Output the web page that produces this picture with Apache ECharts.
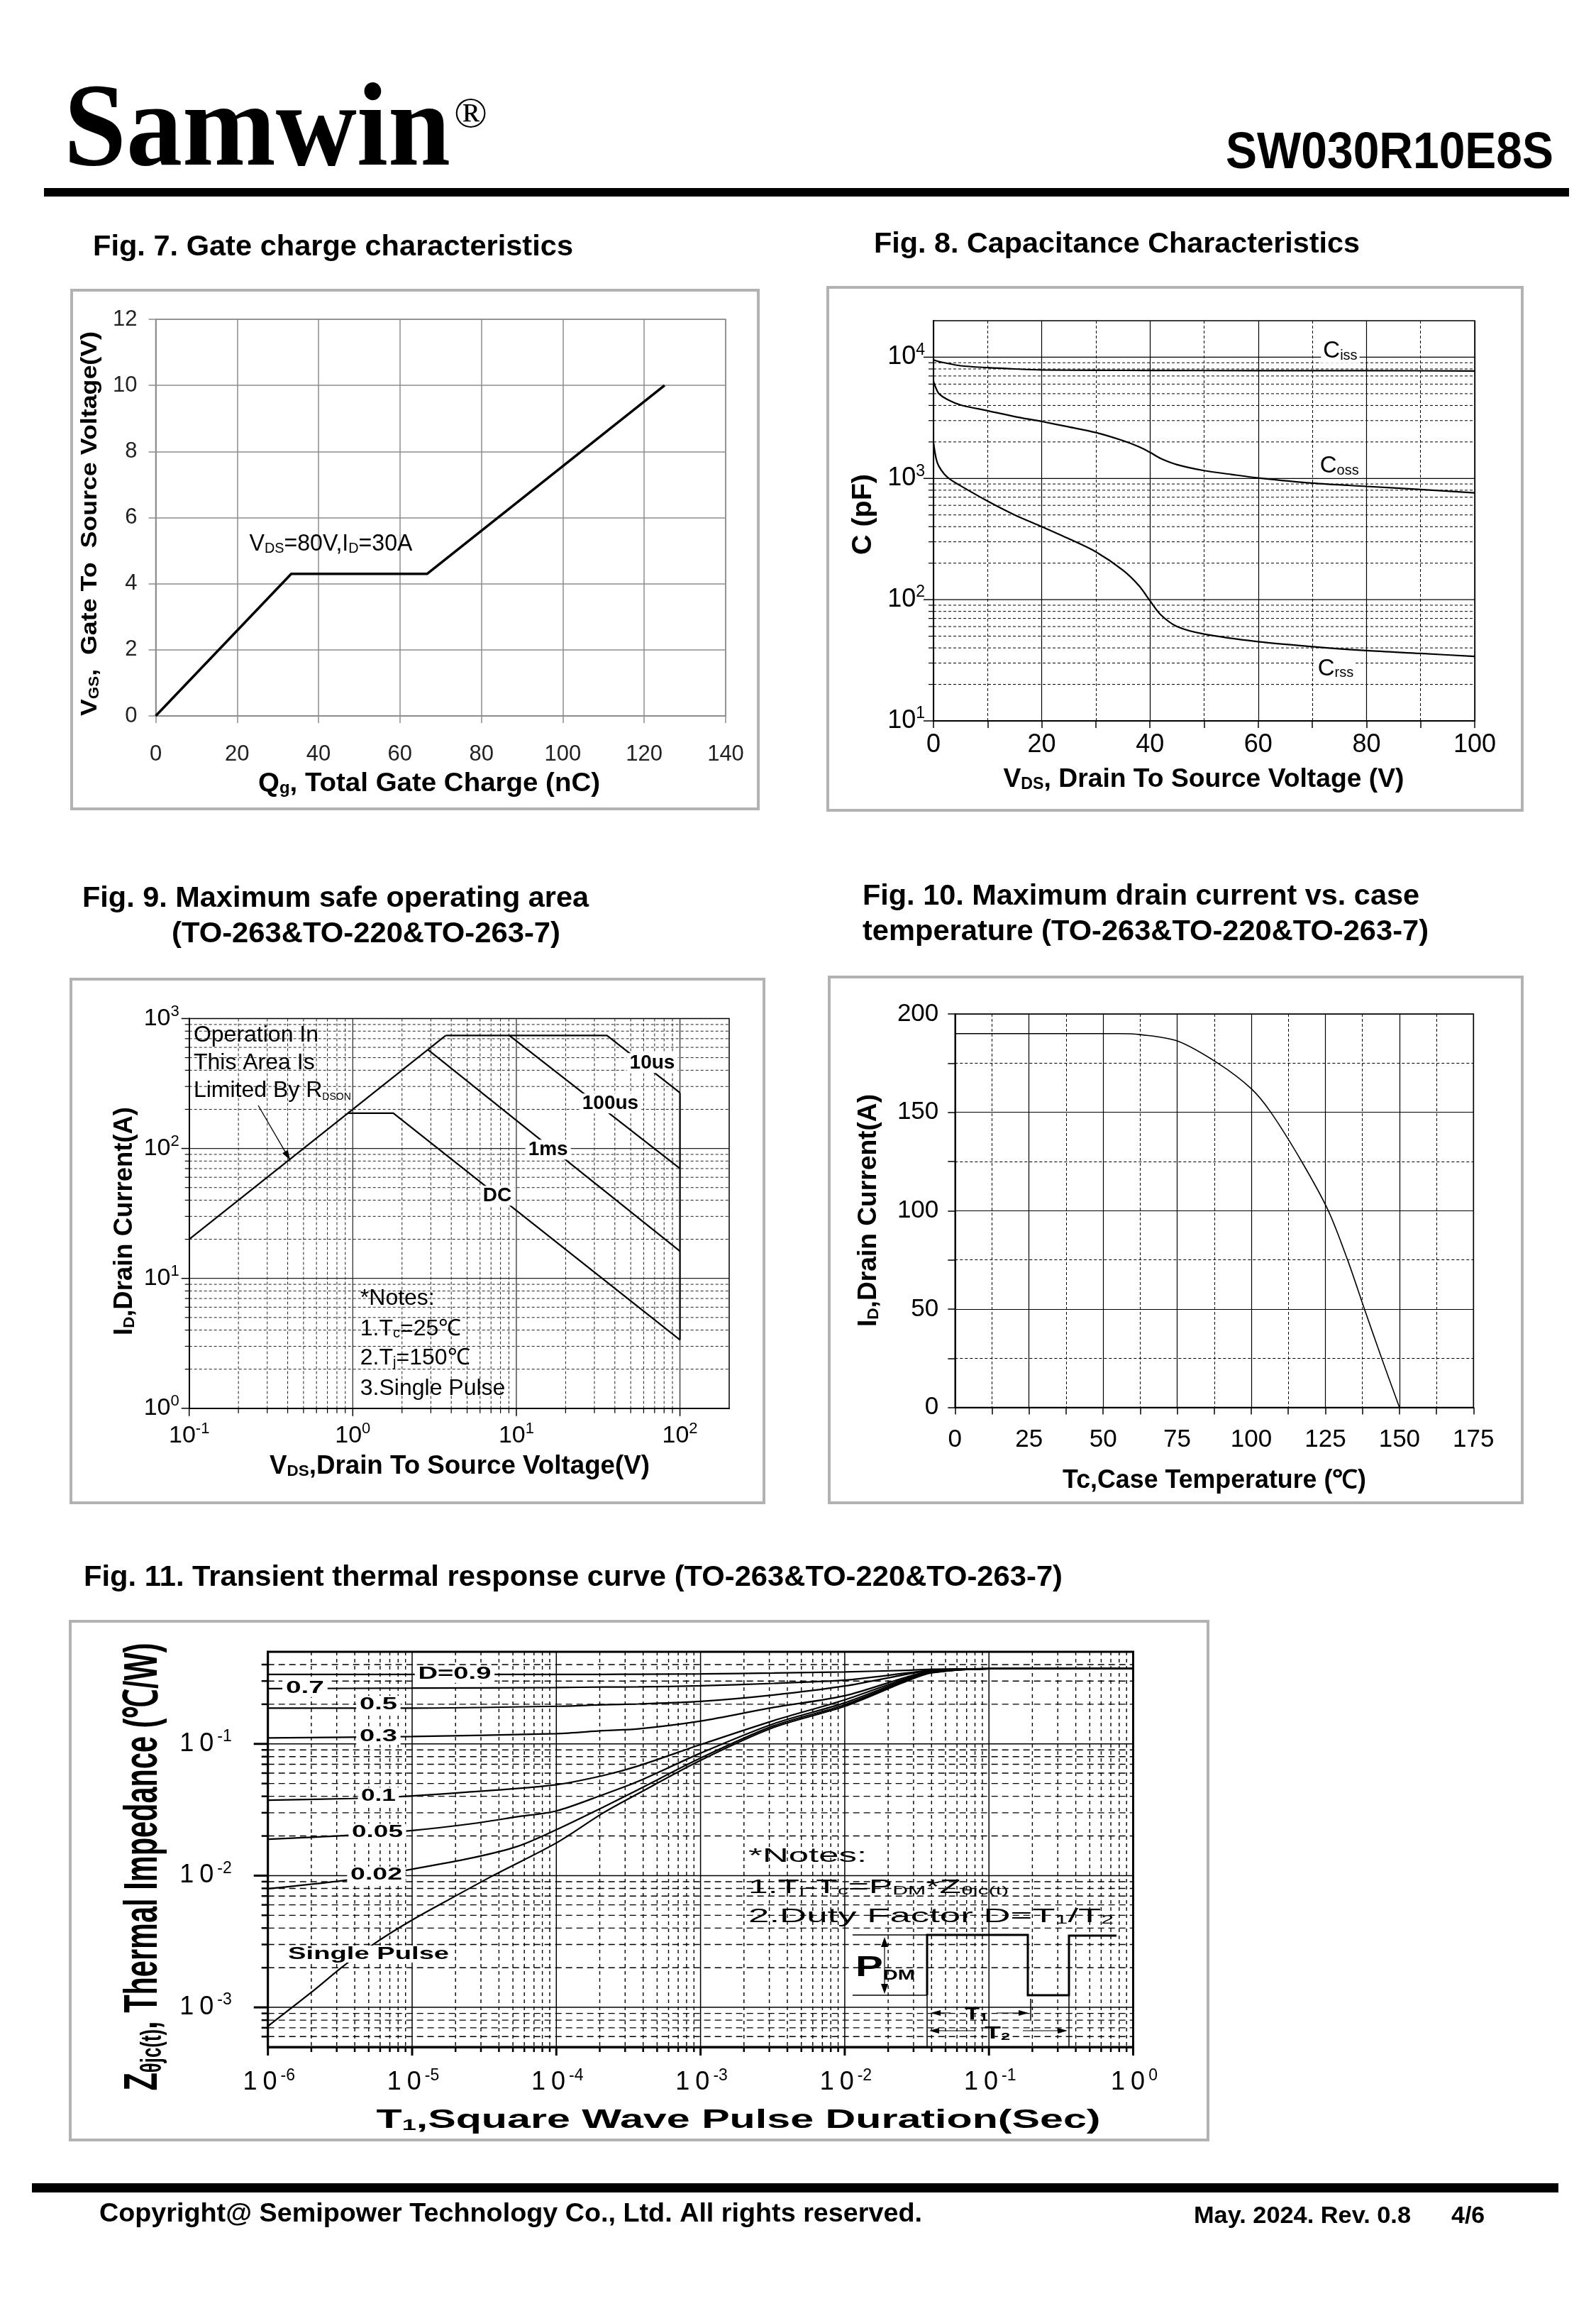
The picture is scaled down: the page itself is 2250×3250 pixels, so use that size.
<!DOCTYPE html>
<html>
<head>
<meta charset="utf-8">
<title>SW030R10E8S</title>
<script src="https://cdn.jsdelivr.net/npm/echarts@6.0.0/dist/echarts.min.js"></script>
<style>
html,body{margin:0;padding:0;background:#fff;}
#chart{width:2250px;height:3250px;}
</style>
</head>
<body>
<div id="chart"></div>
<script>
// ================= DATA =================
// Fig. 7 Gate charge
const fig7Qg = [0, 33.3, 66.7, 125];
const fig7Vgs = [0, 4.3, 4.3, 10];

// Fig. 8 Capacitance (pF) vs VDS (V)
const cissVds = [0, 1, 2, 5, 10, 15, 20, 30, 40, 60, 80, 100];
const cissPf  = [9500, 9200, 9000, 8500, 8200, 8000, 7850, 7800, 7780, 7750, 7750, 7700];
const cossVds = [0, 0.5, 1, 2.5, 5, 10, 15, 20, 25, 30, 35, 38, 40, 42, 45, 50, 55, 60, 70, 80, 90, 100];
const cossPf  = [6300, 5500, 5000, 4500, 4040, 3620, 3240, 2950, 2660, 2390, 2050, 1820, 1640, 1460, 1300, 1160, 1080, 1010, 915, 860, 810, 760];
const crssVds = [0, 0.5, 1, 2, 3, 5, 10, 15, 20, 25, 30, 35, 38, 40, 42, 45, 50, 60, 70, 80, 90, 100];
const crssPf  = [1970, 1450, 1260, 1085, 990, 870, 650, 500, 400, 318, 248, 175, 130, 98, 75, 60, 52, 45, 41, 38, 36, 34];
const fig8YExp = [1, 2, 3, 4];

// Fig. 9 Safe operating area (V, A)
const soaRdsV   = [0.1, 3.7];        const soaRdsA   = [20, 740];
const soa10usV  = [3.7, 35.8, 100];  const soa10usA  = [740, 740, 268];
const soa100usV = [9.06, 100];       const soa100usA = [740, 70];
const soa1msV   = [2.88, 100];       const soa1msA   = [576, 16.2];
const soaDcV    = [0.935, 1.77, 100];const soaDcA    = [187, 187, 3.36];
const soaEdgeV  = [100, 100];        const soaEdgeA  = [268, 3.36];
const fig9XExp = [-1, 0, 1, 2];
const fig9YExp = [0, 1, 2, 3];

// Fig. 10 Max drain current vs case temperature
const caseTempC     = [0, 55, 62.5, 75, 88.7, 100, 106.6, 117, 126, 132.5, 138.2, 144, 150];
const drainCurrentA = [190, 190, 189.5, 186.3, 175, 162, 150, 125, 100, 75, 50, 25, 0];

// Fig. 11 Transient thermal impedance (s, degC/W)
const zthD09T = [1e-6, 1e-5, 1e-4, 2.1e-4, 3.7e-4, 1e-3, 3.2e-3, 1e-2, 2.7e-2, 4e-2, 1e-1, 1];
const zthD09  = [0.337, 0.337, 0.337, 0.337, 0.338, 0.340, 0.345, 0.352, 0.362, 0.368, 0.372, 0.374];
const zthD07T = [1e-6, 1e-5, 1e-4, 2.1e-4, 3.7e-4, 1e-3, 3.2e-3, 1e-2, 2.7e-2, 4e-2, 1e-1, 1];
const zthD07  = [0.263, 0.265, 0.268, 0.270, 0.271, 0.276, 0.288, 0.305, 0.345, 0.362, 0.372, 0.374];
const zthD05T = [1e-6, 1e-5, 1e-4, 2.1e-4, 3.7e-4, 1e-3, 3.2e-3, 1e-2, 2.7e-2, 4e-2, 1e-1, 1];
const zthD05  = [0.187, 0.187, 0.193, 0.198, 0.201, 0.210, 0.235, 0.275, 0.338, 0.360, 0.372, 0.374];
const zthD03T = [1e-6, 1e-5, 1e-4, 2.1e-4, 3.7e-4, 1e-3, 3.2e-3, 1e-2, 2.7e-2, 4e-2, 1e-1, 1];
const zthD03  = [0.111, 0.1137, 0.1197, 0.126, 0.130, 0.149, 0.189, 0.232, 0.322, 0.356, 0.372, 0.374];
const zthD01T = [1e-6, 3.85e-6, 1e-5, 2.54e-5, 1e-4, 2.1e-4, 3.7e-4, 1e-3, 3.2e-3, 1e-2, 2.7e-2, 4e-2, 1e-1, 1];
const zthD01  = [0.0374, 0.0385, 0.0403, 0.0432, 0.049, 0.0574, 0.068, 0.0987, 0.150, 0.216, 0.315, 0.352, 0.372, 0.374];
const zthD005T = [1e-6, 3.3e-6, 1e-5, 2.54e-5, 5.4e-5, 1e-4, 2.1e-4, 3.7e-4, 1e-3, 3.2e-3, 1e-2, 2.7e-2, 4e-2, 1e-1, 1];
const zthD005  = [0.0189, 0.0201, 0.022, 0.0247, 0.028, 0.031, 0.0411, 0.052, 0.085, 0.142, 0.205, 0.310, 0.350, 0.372, 0.374];
const zthD002T = [1e-6, 3.4e-6, 1e-5, 2.54e-5, 5.4e-5, 1e-4, 2.1e-4, 3.7e-4, 1e-3, 3.2e-3, 1e-2, 2.7e-2, 4e-2, 1e-1, 1];
const zthD002  = [0.00796, 0.0092, 0.0112, 0.01355, 0.0167, 0.0223, 0.033, 0.045, 0.078, 0.137, 0.198, 0.305, 0.348, 0.372, 0.374];
const zthSingleT = [1e-6, 2e-6, 3.4e-6, 5.6e-6, 1e-5, 1.95e-5, 3.7e-5, 1e-4, 2.1e-4, 3.7e-4, 1e-3, 3.2e-3, 1e-2, 2.7e-2, 4e-2, 1e-1, 1];
const zthSingle  = [7.2e-4, 1.3e-3, 2.09e-3, 3.1e-3, 4.6e-3, 6.9e-3, 0.0101, 0.0177, 0.0298, 0.042, 0.075, 0.133, 0.193, 0.300, 0.346, 0.372, 0.374];
const fig11XExp = [-6, -5, -4, -3, -2, -1, 0];
const fig11YExp = [-3, -2, -1];

// ================= HELPERS =================
const FONT = '"Liberation Sans", Arial, Helvetica, sans-serif';
const NARROW = '"Liberation Sans Narrow", "Arial Narrow", "Liberation Sans", sans-serif';
const SERIF = '"Liberation Serif", "Times New Roman", serif';
const BLK = '#000';
const GRAY7 = '#8c8c8c';
const L10 = Math.log10;

const zip = (xs, ys, fx, fy) => xs.map((x, i) => [fx ? fx(x) : x, fy ? fy(ys[i]) : ys[i]]);

function logMinors(lo, hi) {
  const out = [];
  for (let d = Math.floor(lo); d < Math.ceil(hi); d++)
    for (let k = 2; k <= 9; k++) { const v = d + L10(k); if (v > lo + 1e-6 && v < hi - 1e-6) out.push(v); }
  return out;
}
function ints(lo, hi) { const o = []; for (let i = Math.ceil(lo - 1e-9); i <= Math.floor(hi + 1e-9); i++) o.push(i); return o; }

function expRich(f, spaced) {
  return {
    b: {fontSize: f, fontFamily: FONT, color: BLK, lineHeight: Math.round(f * 1.2), padding: spaced ? [0, 4] : 0},
    s: {fontSize: Math.round(f * 0.64), fontFamily: FONT, color: BLK, lineHeight: Math.round(f * 0.64), verticalAlign: 'top', padding: spaced ? [0, 1] : 0}
  };
}
function expFormatter(exps, spaced) {
  return v => {
    const r = Math.round(v);
    if (Math.abs(v - r) > 1e-6 || exps.indexOf(r) < 0) return '';
    return spaced ? '{b|1}{b|0}{s|' + r + '}' : '{b|10}{s|' + r + '}';
  };
}

function ax(gi, extra) {
  return Object.assign({
    gridIndex: gi, type: 'value',
    axisLine: {onZero: false, show: true, lineStyle: {color: BLK, width: 2}},
    splitLine: {show: false}, axisTick: {show: false},
    minorTick: {show: false}, minorSplitLine: {show: false}
  }, extra);
}

function lineS(gi, data, width, smooth) {
  return {type: 'line', xAxisIndex: gi, yAxisIndex: gi, data, symbol: 'none', showSymbol: false,
    smooth: smooth || false,
    lineStyle: {color: BLK, width}, z: 5, silent: true, animation: false, clip: true};
}

// gridlines drawn through the axis scales (for log-transformed axes)
function gridS(gi, xs, ys, ref, st) {
  const data = xs.map(v => [v, ref[1], 0]).concat(ys.map(v => [ref[0], v, 1]));
  return {
    type: 'custom', xAxisIndex: gi, yAxisIndex: gi, silent: true, z: 1, animation: false, clip: false,
    data, encode: {x: 0, y: 1},
    renderItem(params, api) {
      const cs = params.coordSys;
      const p = api.coord([api.value(0), api.value(1)]);
      const k = api.value(2);
      const shape = k === 0 ? {x1: p[0], y1: cs.y, x2: p[0], y2: cs.y + cs.height}
                            : {x1: cs.x, y1: p[1], x2: cs.x + cs.width, y2: p[1]};
      return {type: 'line', shape, style: {stroke: st.color, lineWidth: st.width, lineDash: k === 0 ? st.dashX : st.dashY}};
    }
  };
}
// outward ticks drawn through the axis scales
function tickS(gi, xs, ys, ref, lenX, lenY, width) {
  const data = xs.map(v => [v, ref[1], 0]).concat(ys.map(v => [ref[0], v, 1]));
  return {
    type: 'custom', xAxisIndex: gi, yAxisIndex: gi, silent: true, z: 3, animation: false, clip: false,
    data, encode: {x: 0, y: 1},
    renderItem(params, api) {
      const cs = params.coordSys;
      const p = api.coord([api.value(0), api.value(1)]);
      const k = api.value(2);
      const shape = k === 0 ? {x1: p[0], y1: cs.y + cs.height, x2: p[0], y2: cs.y + cs.height + lenX}
                            : {x1: cs.x - lenY, y1: p[1], x2: cs.x, y2: p[1]};
      return {type: 'line', shape, style: {stroke: BLK, lineWidth: width}};
    }
  };
}

// ================= OPTION =================
const chart = echarts.init(document.getElementById('chart'));

const grids = [
  {left: 219.5, top: 450, width: 803.5, height: 559, show: true, borderColor: GRAY7, borderWidth: 1.5},
  {left: 1316, top: 452, width: 763, height: 564, show: true, borderColor: BLK, borderWidth: 1.5},
  {left: 266.7, top: 1435.5, width: 761.3, height: 549.3, show: true, borderColor: BLK, borderWidth: 1.5},
  {left: 1346.3, top: 1429, width: 731, height: 554.6, show: true, borderColor: BLK, borderWidth: 1.5},
  {left: 377.7, top: 2328, width: 1219.8, height: 557, show: true, borderColor: BLK, borderWidth: 3}
];

const f8YMax = L10(20000), f9XMax = L10(200), f11YMin = L10(5e-4), f11YMax = L10(0.5);

const xAxes = [
  ax(0, {min: 0, max: 140, interval: 20,
    axisLine: {onZero: false, show: true, lineStyle: {color: GRAY7, width: 1.5}},
    axisTick: {show: true, length: 10, lineStyle: {color: GRAY7, width: 1.5}},
    axisLabel: {fontFamily: NARROW, fontSize: 31, color: '#222', margin: 36, lineHeight: 36},
    splitLine: {show: true, lineStyle: {color: GRAY7, width: 1.5}}}),
  ax(1, {min: 0, max: 100, interval: 20,
    axisTick: {show: true, length: 10, lineStyle: {color: BLK, width: 1.5}},
    minorTick: {show: true, splitNumber: 2, length: 10, lineStyle: {color: BLK, width: 1.5}},
    axisLabel: {fontFamily: FONT, fontSize: 36, color: BLK, margin: 14, lineHeight: 40},
    splitLine: {show: true, lineStyle: {color: BLK, width: 1.2}},
    minorSplitLine: {show: true, lineStyle: {color: BLK, width: 1, type: [4, 3]}}}),
  ax(2, {min: -1, max: f9XMax, interval: 1,
    axisLabel: {formatter: expFormatter(fig9XExp), rich: expRich(34), margin: 18}}),
  ax(3, {min: 0, max: 175, interval: 25,
    axisTick: {show: true, length: 10, lineStyle: {color: BLK, width: 1.5}},
    minorTick: {show: true, splitNumber: 2, length: 10, lineStyle: {color: BLK, width: 1.5}},
    axisLabel: {fontFamily: FONT, fontSize: 35, color: BLK, margin: 26, lineHeight: 40},
    splitLine: {show: true, lineStyle: {color: BLK, width: 1.2}},
    minorSplitLine: {show: true, lineStyle: {color: BLK, width: 1, type: [4, 3]}}}),
  ax(4, {min: -6, max: 0, interval: 1,
    axisLine: {onZero: false, show: true, lineStyle: {color: BLK, width: 3}},
    axisLabel: {formatter: expFormatter(fig11XExp, true), rich: expRich(36, true), margin: 29}})
];
const yAxes = [
  ax(0, {min: 0, max: 12, interval: 2,
    axisLine: {onZero: false, show: true, lineStyle: {color: GRAY7, width: 1.5}},
    axisTick: {show: true, length: 10, lineStyle: {color: GRAY7, width: 1.5}},
    axisLabel: {fontFamily: NARROW, fontSize: 31, color: '#222', margin: 26},
    splitLine: {show: true, lineStyle: {color: GRAY7, width: 1.5}}}),
  ax(1, {min: 1, max: f8YMax, interval: 1,
    axisLabel: {formatter: expFormatter(fig8YExp), rich: expRich(36), margin: 12}}),
  ax(2, {min: 0, max: 3, interval: 1,
    axisLabel: {formatter: expFormatter(fig9YExp), rich: expRich(34), margin: 14}}),
  ax(3, {min: 0, max: 200, interval: 50,
    axisTick: {show: true, length: 10, lineStyle: {color: BLK, width: 1.5}},
    minorTick: {show: true, splitNumber: 2, length: 10, lineStyle: {color: BLK, width: 1.5}},
    axisLabel: {fontFamily: FONT, fontSize: 35, color: BLK, margin: 23},
    splitLine: {show: true, lineStyle: {color: BLK, width: 1.2}},
    minorSplitLine: {show: true, lineStyle: {color: BLK, width: 1, type: [4, 3]}}}),
  ax(4, {min: f11YMin, max: f11YMax, splitNumber: 3,
    axisLine: {onZero: false, show: true, lineStyle: {color: BLK, width: 3}},
    axisLabel: {formatter: expFormatter(fig11YExp, true), rich: expRich(36, true), margin: 50}})
];

const series = [];
// Fig 7
series.push(lineS(0, zip(fig7Qg, fig7Vgs), 3.5));
// Fig 8
series.push(gridS(1, [], [2, 3, 4], [50, 2], {color: BLK, width: 1.2}));
series.push(gridS(1, [], logMinors(1, f8YMax), [50, 2], {color: BLK, width: 1, dashY: [4, 3]}));
series.push(tickS(1, [], [1, 2, 3, 4], [50, 2], 0, 14, 1.5));
series.push(tickS(1, [], logMinors(1, f8YMax), [50, 2], 0, 7, 1.2));
series.push(lineS(1, zip(cissVds, cissPf, null, L10), 2.2, 0.3));
series.push(lineS(1, zip(cossVds, cossPf, null, L10), 2.2, 0.3));
series.push(lineS(1, zip(crssVds, crssPf, null, L10), 2.2, 0.3));
// Fig 9
series.push(gridS(2, [0, 1, 2], [1, 2], [0, 1.5], {color: '#222', width: 1.2}));
series.push(gridS(2, logMinors(-1, f9XMax), logMinors(0, 3), [0, 1.5], {color: '#222', width: 1, dashX: [4, 3], dashY: [4, 3]}));
series.push(tickS(2, ints(-1, 2), ints(0, 3), [0, 1.5], 11, 11, 1.5));
series.push(tickS(2, logMinors(-1, f9XMax), logMinors(0, 3), [0, 1.5], 7, 6, 1.2));
[[soaRdsV, soaRdsA], [soa10usV, soa10usA], [soa100usV, soa100usA], [soa1msV, soa1msA], [soaDcV, soaDcA], [soaEdgeV, soaEdgeA]]
  .forEach(([v, a]) => series.push(lineS(2, zip(v, a, L10, L10), 2.2)));
// Fig 10
series.push(lineS(3, zip(caseTempC, drainCurrentA), 1.6, 0.3));
// Fig 11
series.push(gridS(4, [-5, -4, -3, -2, -1], [-3, -2, -1], [-3, -2], {color: BLK, width: 1.5}));
series.push(gridS(4, logMinors(-6, 0), logMinors(f11YMin, f11YMax), [-3, -2], {color: BLK, width: 1.4, dashX: [5, 5], dashY: [9, 6]}));
series.push(tickS(4, ints(-6, 0), [-3, -2, -1], [-3, -2], 12, 20, 3));
series.push(tickS(4, logMinors(-6, 0), logMinors(f11YMin, f11YMax), [-3, -2], 7, 9, 2.5));
[[zthD09T, zthD09], [zthD07T, zthD07], [zthD05T, zthD05], [zthD03T, zthD03], [zthD01T, zthD01],
 [zthD005T, zthD005], [zthD002T, zthD002], [zthSingleT, zthSingle]]
  .forEach(([t, z]) => series.push(lineS(4, zip(t, z, L10, L10), 2.2, 0.3)));

chart.setOption({
  backgroundColor: '#fff', animation: false,
  grid: grids, xAxis: xAxes, yAxis: yAxes, series
});

// ================= TEXT / DECORATION =================
const mctx = document.createElement('canvas').getContext('2d');
function fontStr(st) { return (st.fontWeight || 'normal') + ' ' + st.fontSize + 'px ' + st.fontFamily; }
function mkRich(f, fam, wt, col, ratio) {
  const s = Math.round(f * (ratio || 0.62));
  const b = (size, lh, va) => ({fontSize: size, fontFamily: fam, fontWeight: wt, fill: col, color: col, lineHeight: lh, verticalAlign: va});
  return {
    m: b(f, f, 'middle'),
    sb: b(s, Math.round(0.3 * f + 0.7 * s), 'bottom'),
    sl: b(s, Math.max(4, Math.round(0.3 * f + 0.7 * s - 0.3 * f)), 'bottom'),
    sp: b(s, s, 'top')
  };
}
function measureSegs(segs, rich) {
  let w = 0;
  segs.forEach(([t, s]) => { mctx.font = fontStr(rich[s || 'm']); w += mctx.measureText(t).width; });
  return w;
}
function T(x, y, segs, o) {
  o = o || {};
  const f = o.size || 30, fam = o.family || FONT, wt = o.weight || 'normal', col = o.color || BLK;
  const rich = mkRich(f, fam, wt, col, o.ratio);
  if (typeof segs === 'string') segs = [[segs, 'm']];
  let sx = o.scaleX || 1;
  if (o.width) sx = o.width / measureSegs(segs, rich);
  const text = segs.map(([t, s]) => '{' + (s || 'm') + '|' + t + '}').join('');
  const align = o.align || 'left';
  return {
    type: 'text', x, y, rotation: o.rotation || 0, scaleX: sx, scaleY: o.scaleY || 1, z: 200, silent: true,
    style: {text, x: 0, y: o.mid ? 0 : -0.35 * f, rich, font: wt + ' ' + f + 'px ' + fam, fill: col,
      align, textAlign: align, verticalAlign: 'middle', textVerticalAlign: 'middle',
      backgroundColor: o.bg || null, padding: o.bg ? (o.pad || [0, 3]) : 0}
  };
}
function R(x, y, w, h, fill, stroke, lw) {
  return {type: 'rect', shape: {x, y, width: w, height: h}, style: {fill: fill || null, stroke: stroke || null, lineWidth: lw || 0}, z: 150, silent: true};
}
function Ln(x1, y1, x2, y2, w) { return {type: 'line', shape: {x1, y1, x2, y2}, style: {stroke: BLK, lineWidth: w || 1.5}, z: 200, silent: true}; }
function PL(points, w) { return {type: 'polyline', shape: {points}, style: {stroke: BLK, lineWidth: w || 1.5, fill: null}, z: 200, silent: true}; }
function AH(tx, ty, fx, fy, len, half) {
  const dx = tx - fx, dy = ty - fy, L = Math.hypot(dx, dy), ux = dx / L, uy = dy / L;
  const bx = tx - ux * len, by = ty - uy * len;
  return {type: 'polygon', shape: {points: [[tx, ty], [bx - uy * half, by + ux * half], [bx + uy * half, by - ux * half]]}, style: {fill: BLK}, z: 200, silent: true};
}
const P = (gi, x, y) => chart.convertToPixel({gridIndex: gi}, [x, y]);
const PI2 = Math.PI / 2;
const g = [];

// header & footer
g.push(T(90, 247, 'Samwin', {size: 168, family: SERIF, weight: 'bold', width: 545}));
g.push(T(640, 163, '®', {size: 62, family: SERIF, mid: true}));
g.push(T(2190, 242, 'SW030R10E8S', {size: 72, weight: 'bold', align: 'right', width: 462}));
g.push(R(62, 265, 2150, 12, BLK));
g.push(R(45, 3077, 2152, 13, BLK));
g.push(T(140, 3134, 'Copyright@ Semipower Technology Co., Ltd. All rights reserved.', {size: 37, weight: 'bold', width: 1160}));
g.push(T(1683, 3136, 'May. 2024. Rev. 0.8', {size: 34, weight: 'bold', width: 306}));
g.push(T(2046, 3136, '4/6', {size: 34, weight: 'bold'}));

// frames
const BOXC = '#b2b2b2';
g.push(R(101, 409, 968, 731, null, BOXC, 4));
g.push(R(1167, 405, 979, 737, null, BOXC, 4));
g.push(R(100, 1380, 977, 738, null, BOXC, 4));
g.push(R(1169, 1377, 977, 741, null, BOXC, 4));
g.push(R(99, 2285, 1604, 731, null, BOXC, 4));

// titles
g.push(T(131, 363, 'Fig. 7. Gate charge characteristics', {size: 41, weight: 'bold', width: 677}));
g.push(T(1232, 359, 'Fig. 8. Capacitance Characteristics', {size: 41, weight: 'bold', width: 685}));
g.push(T(116, 1281, 'Fig. 9. Maximum safe operating area', {size: 41, weight: 'bold', width: 714}));
g.push(T(242, 1331, '(TO-263&TO-220&TO-263-7)', {size: 41, weight: 'bold', width: 548}));
g.push(T(1216, 1278, 'Fig. 10. Maximum drain current vs. case', {size: 41, weight: 'bold', width: 785}));
g.push(T(1216, 1328, 'temperature (TO-263&TO-220&TO-263-7)', {size: 41, weight: 'bold', width: 798}));
g.push(T(118, 2238, 'Fig. 11. Transient thermal response curve (TO-263&TO-220&TO-263-7)', {size: 41, weight: 'bold', width: 1380}));

// axis names
g.push(T(605, 1118, [['Q'], ['g', 'sl'], [', Total Gate Charge (nC)']], {size: 37, family: NARROW, weight: 'bold', align: 'center', width: 482}));
g.push(T(127, 738, [['V'], ['GS', 'sl'], [',  Gate To  Source Voltage(V)']], {size: 32, weight: 'bold', align: 'center', rotation: PI2, mid: true, width: 542}));
g.push(T(1697, 1112, [['V'], ['DS', 'sb'], [', Drain To Source Voltage (V)']], {size: 37, weight: 'bold', align: 'center', width: 565}));
g.push(T(1218, 725, 'C (pF)', {size: 38, weight: 'bold', align: 'center', rotation: PI2, mid: true, width: 114}));
g.push(T(648, 2080, [['V'], ['DS', 'sb'], [',Drain To Source Voltage(V)']], {size: 36, weight: 'bold', align: 'center', width: 536}));
g.push(T(176, 1721, [['I'], ['D', 'sb'], [',Drain Current(A)']], {size: 36, weight: 'bold', align: 'center', rotation: PI2, mid: true, width: 322}));
g.push(T(1712, 2100, 'Tc,Case Temperature (℃)', {size: 36, weight: 'bold', align: 'center', width: 428}));
g.push(T(1225, 1706, [['I'], ['D', 'sb'], [',Drain Current(A)']], {size: 36, weight: 'bold', align: 'center', rotation: PI2, mid: true, width: 328}));
g.push(T(1041, 3002, [['T'], ['1', 'sb'], [',Square Wave Pulse Duration(Sec)']], {size: 36, weight: 'bold', align: 'center', width: 1021}));
g.push(T(203, 2631, [['Z'], ['θjc(t)', 'sl'], [', Thermal Impedance (℃/W)']], {size: 66, weight: 'bold', align: 'center', rotation: PI2, mid: true, width: 631}));

// Fig 7 annotation
let p = P(0, 23.0, 4.94);
g.push(T(p[0], p[1], [['V'], ['DS', 'sl'], ['=80V,I'], ['D', 'sl'], ['=30A']], {size: 34, family: NARROW, width: 230}));

// Fig 8 curve labels
[[71.6, 3.98, 'iss'], [71.0, 3.035, 'oss'], [70.6, 1.363, 'rss']].forEach(([x, y, s]) => {
  const q = P(1, x, y);
  g.push(T(q[0], q[1], [['C'], [s, 'sl']], {size: 33, bg: '#fff', pad: [0, 3]}));
});

// Fig 9 annotations
[[2.811, 'Operation In'], [2.598, 'This Area Is']].forEach(([y, t]) => {
  const q = P(2, -0.973, y); g.push(T(q[0], q[1], t, {size: 32}));
});
p = P(2, -0.973, 2.385);
g.push(T(p[0], p[1], [['Limited By R'], ['DSON', 'sb']], {size: 32, ratio: 0.45}));
{
  const a = P(2, -0.578, 2.331), b = P(2, -0.383, 1.91);
  g.push(Ln(a[0], a[1], b[0], b[1], 1.3));
  g.push(AH(b[0], b[1], a[0], a[1], 14, 4.5));
}
[[1.675, 2.604, '10us'], [1.385, 2.292, '100us'], [1.055, 1.937, '1ms'], [0.778, 1.582, 'DC']].forEach(([x, y, t]) => {
  const q = P(2, x, y); g.push(T(q[0], q[1], t, {size: 28, weight: 'bold', bg: '#fff', pad: [0, 4]}));
});
p = P(2, 0.0455, 0.784); g.push(T(p[0], p[1], '*Notes:', {size: 32}));
p = P(2, 0.0455, 0.549); g.push(T(p[0], p[1], [['1.T'], ['c', 'sl'], ['=25℃']], {size: 32}));
p = P(2, 0.0455, 0.325); g.push(T(p[0], p[1], [['2.T'], ['j', 'sl'], ['=150℃']], {size: 32}));
p = P(2, 0.0455, 0.092); g.push(T(p[0], p[1], '3.Single Pulse', {size: 32}));

// Fig 11 curve labels
[[-4.705, -0.472, 'D=0.9', 103], [-5.743, -0.58, '0.7', 54], [-5.234, -0.699, '0.5', 53], [-5.234, -0.942, '0.3', 53],
 [-5.234, -1.396, '0.1', 49], [-5.241, -1.672, '0.05', 72], [-5.248, -1.996, '0.02', 73], [-5.302, -2.596, 'Single Pulse', 227]]
  .forEach(([x, y, t, w]) => {
    const q = P(4, x, y);
    g.push(T(q[0], q[1], t, {size: 24, weight: 'bold', align: 'center', mid: true, width: w, bg: '#fff', pad: [0, 3]}));
  });
// Fig 11 notes
p = P(4, -2.668, -1.904); g.push(T(p[0], p[1], '*Notes:', {size: 28, width: 167}));
p = P(4, -2.668, -2.142); g.push(T(p[0], p[1], [['1.T'], ['j', 'sl'], ['-T'], ['c', 'sl'], ['=P'], ['DM', 'sb'], ['*Z'], ['θjc(t)', 'sb']], {size: 28, width: 367}));
p = P(4, -2.668, -2.364); g.push(T(p[0], p[1], [['2.Duty Factor D=T'], ['1', 'sb'], ['/T'], ['2', 'sb']], {size: 28, width: 515}));
// pulse diagram
g.push(Ln(1202, 2727, 1307, 2727, 1.5));
g.push(Ln(1202, 2812, 1307, 2812, 1.5));
g.push(PL([[1307, 2812], [1307, 2727], [1449, 2727], [1449, 2812], [1507, 2812], [1507, 2728], [1574, 2728]], 3));
g.push(Ln(1247, 2744, 1247, 2798, 1.2));
g.push(AH(1247, 2730, 1247, 2750, 14, 5));
g.push(AH(1247, 2810, 1247, 2790, 14, 5));
g.push(T(1206, 2788, [['P'], ['DM', 'sb']], {size: 40, weight: 'bold', ratio: 0.5, width: 84}));
g.push(Ln(1307, 2812, 1307, 2885, 1.5));
g.push(Ln(1453, 2817, 1453, 2848, 1.5));
g.push(Ln(1507, 2812, 1507, 2885, 1.5));
g.push(Ln(1340, 2837, 1318, 2837, 1.2)); g.push(AH(1312, 2837, 1340, 2837, 14, 4));
g.push(Ln(1405, 2837, 1442, 2837, 1.2)); g.push(AH(1450, 2837, 1405, 2837, 14, 4));
g.push(Ln(1375, 2862, 1316, 2862, 1.2)); g.push(AH(1310, 2862, 1375, 2862, 14, 4));
g.push(Ln(1442, 2862, 1498, 2862, 1.2)); g.push(AH(1505, 2862, 1442, 2862, 14, 4));
g.push(T(1360, 2848, [['T'], ['1', 'sb']], {size: 24, weight: 'bold', width: 33}));
g.push(T(1388, 2875, [['T'], ['2', 'sb']], {size: 24, weight: 'bold', width: 36}));

chart.setOption({graphic: {elements: g}});
</script>
</body>
</html>
